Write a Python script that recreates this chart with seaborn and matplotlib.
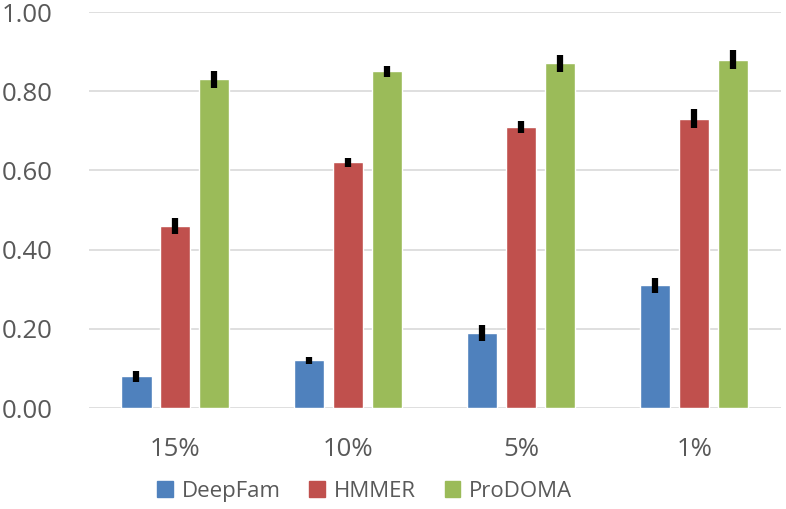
import seaborn as sns
import matplotlib.pyplot as plt
import pandas as pd
import matplotlib.ticker as ticker

categories = ["15%", "10%", "5%", "1%"]
methods = ["DeepFam", "HMMER", "ProDOMA"]
deepfam = [0.08, 0.12, 0.19, 0.31]
hmmer = [0.46, 0.62, 0.71, 0.73]
prodoma = [0.83, 0.85, 0.87, 0.88]
deepfam_err = [0.014, 0.010, 0.020, 0.019]
hmmer_err = [0.020, 0.011, 0.016, 0.024]
prodoma_err = [0.021, 0.014, 0.021, 0.024]

colors = ["#4F81BD", "#C0504D", "#9BBB59"]
text_color = "#595959"

sns.set_theme(style="white")
plt.rcParams['font.family'] = ['Open Sans', 'DejaVu Sans']

rows = []
for m, vals, errs in zip(methods, [deepfam, hmmer, prodoma],
                         [deepfam_err, hmmer_err, prodoma_err]):
    for c, v, e in zip(categories, vals, errs):
        rows.append({'Threshold': c, 'Method': m, 'Value': v, 'Err': e})
df = pd.DataFrame(rows)

fig = plt.figure(figsize=(7.86, 5.09), dpi=100)
ax = fig.add_axes([0.1132, 0.1984, 0.8804, 0.778])

sns.barplot(data=df, x='Threshold', y='Value', hue='Method', order=categories,
            hue_order=methods, palette=colors, width=0.676, gap=0.23,
            errorbar=None, saturation=1, ax=ax, zorder=2)

# error bars on bar centres
for container, m in zip(ax.containers, methods):
    sub = df[df['Method'] == m].set_index('Threshold').loc[categories]
    xs = [p.get_x() + p.get_width() / 2 for p in container]
    ax.errorbar(xs, sub['Value'], yerr=sub['Err'], fmt='none',
                ecolor='black', elinewidth=4.5, capsize=0, zorder=3)

ax.set_ylim(0, 1.0)
ax.set_xlim(-0.5, 3.5)
ax.yaxis.set_major_locator(ticker.MultipleLocator(0.2))
ax.yaxis.set_major_formatter(ticker.FormatStrFormatter('%.2f'))
ax.grid(axis='y', color='#D9D9D9', linewidth=1.2, zorder=0)
ax.set_axisbelow(True)
for s in ax.spines.values():
    s.set_visible(False)
ax.set_xlabel('')
ax.set_ylabel('')
ax.tick_params(axis='y', length=0, pad=26, labelsize=18.5, labelcolor=text_color)
ax.tick_params(axis='x', length=0, pad=21, labelsize=18.5, labelcolor=text_color)

ax.get_legend().remove()
handles = [plt.Rectangle((0, 0), 1, 1, color=c) for c in colors]
fig.legend(handles, methods, loc='center', bbox_to_anchor=(0.464, 0.035),
           ncol=3, frameon=False, fontsize=16, handlelength=0.7,
           handleheight=0.7, handletextpad=0.4, columnspacing=1.3,
           labelcolor=text_color)

fig.savefig('out.png', dpi=100)
